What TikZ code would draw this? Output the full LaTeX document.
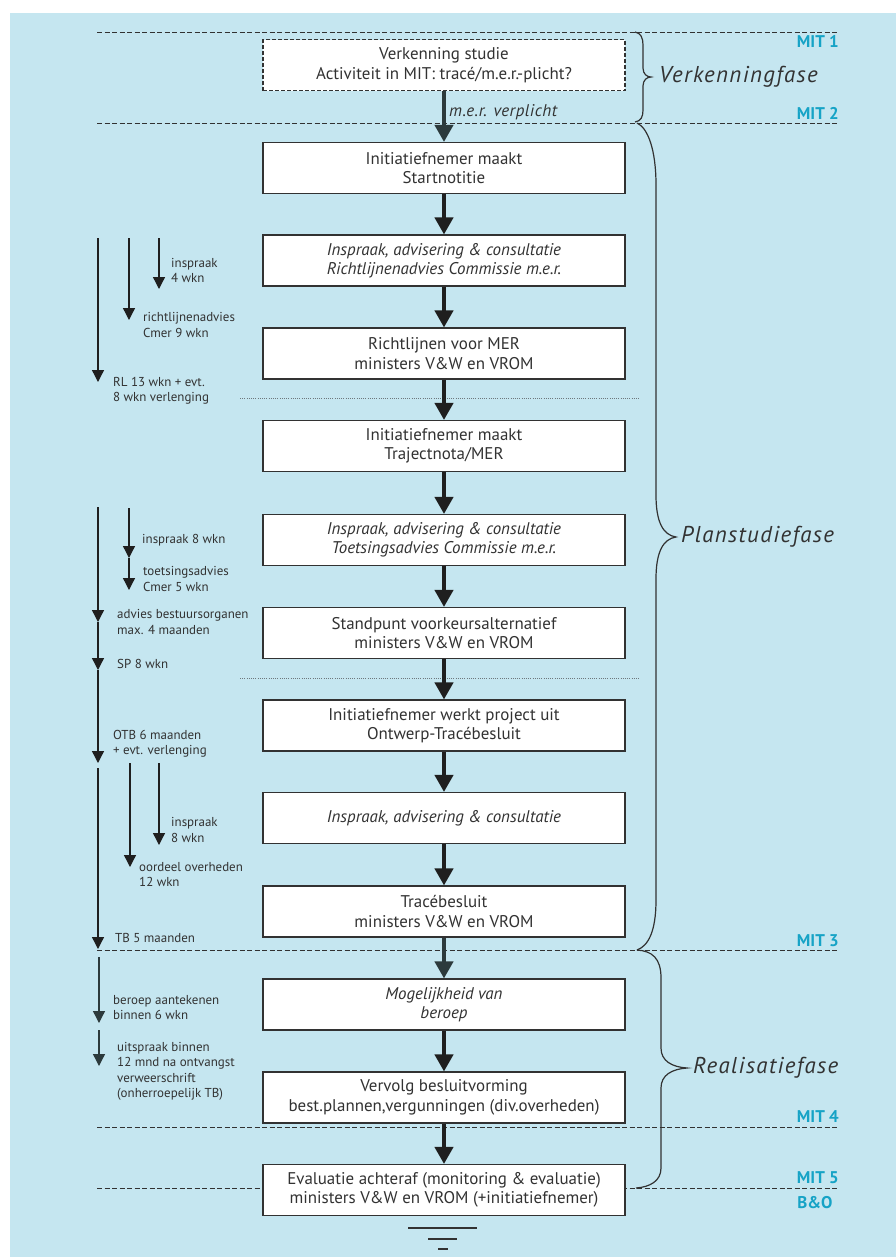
\documentclass[tikz,border=0pt]{standalone}
\usepackage{fontspec}
\setmainfont{PT Sans}
\usetikzlibrary{arrows.meta}
\definecolor{bgblue}{RGB}{197,230,240}
\definecolor{mitcyan}{RGB}{22,163,198}
\definecolor{ink}{RGB}{50,50,50}
\definecolor{slate}{RGB}{44,58,60}
\definecolor{dotgray}{RGB}{110,120,125}

\tikzset{
  stage/.style={draw=ink, fill=white, line width=1.1bp, minimum width=362bp, minimum height=51bp,
    inner sep=0pt, align=center, text=ink, font=\fontsize{17}{19.5}\selectfont},
  probe/.style={stage, dash pattern=on 4bp off 2bp},
  flow/.style={line width=4bp, draw=black!88, -{Triangle[width=18bp,length=17bp]}},
  span/.style={line width=1.3bp, draw=black!88, -{Triangle[width=12bp,length=12bp]}},
  note/.style={anchor=west, align=left, text=ink, font=\fontsize{13}{15.5}\selectfont, inner sep=0pt},
  milestone/.style={draw=ink, line width=1bp, dash pattern=on 5bp off 2.5bp},
  divider/.style={draw=dotgray, line width=0.9bp, dash pattern=on 1bp off 1.2bp},
  mitlabel/.style={text=mitcyan, font=\fontsize{17}{19}\selectfont\bfseries, inner sep=0pt},
  phase/.style={anchor=west, text=ink, font=\fontsize{23}{26}\selectfont\itshape\addfontfeature{LetterSpace=6}, inner sep=0pt},
  bracket/.style={draw=ink, line width=1.2bp},
}

\begin{document}
\begin{tikzpicture}[x=1bp, y=-1bp]
\useasboundingbox (0,0) rectangle (896,1257);
\fill[white] (0,0) rectangle (896,1257);
\fill[bgblue] (10,13) rectangle (896,1257);

% milestone lines
\foreach \yy/\nm in {32/m1, 123/m2, 950/m3, 1127/m4, 1188/m5} {
  \coordinate (\nm L) at (97,\yy);
  \coordinate (\nm R) at (838,\yy);
  \draw[milestone] (\nm L) -- (\nm R);
}
\node[mitlabel, anchor=north east] (mit1) at (839,35) {MIT 1};
\node[mitlabel, anchor=south east] (mit2) at (839,120) {MIT 2};
\node[mitlabel, anchor=south east] (mit3) at (839,947) {MIT 3};
\node[mitlabel, anchor=south east] (mit4) at (839,1123) {MIT 4};
\node[mitlabel, anchor=south east] (mit5) at (839,1184) {MIT 5};
\node[mitlabel, anchor=north] (bo) at (815,1196) {B\&O};

% dotted dividers
\coordinate (d1L) at (240,398); \coordinate (d1R) at (639,398);
\coordinate (d2L) at (240,678); \coordinate (d2R) at (639,678);
\draw[divider] (d1L) -- (d1R);
\draw[divider] (d2L) -- (d2R);

% process steps
\node[probe] (b1) at (444,65) {Verkenning studie\\Activiteit in MIT: tracé/m.e.r.-plicht?};
\node[stage] (b2) at (444,168) {Initiatiefnemer maakt\\Startnotitie};
\node[stage] (b3) at (444,260.5) {\itshape Inspraak, advisering \& consultatie\\\itshape Richtlijnenadvies Commissie m.e.r.};
\node[stage] (b4) at (444,353.5) {Richtlijnen voor MER\\ministers V\&W en VROM};
\node[stage] (b5) at (444,446) {Initiatiefnemer maakt\\Trajectnota/MER};
\node[stage] (b6) at (444,540) {\itshape Inspraak, advisering \& consultatie\\\itshape Toetsingsadvies Commissie m.e.r.};
\node[stage] (b7) at (444,633) {Standpunt voorkeursalternatief\\ministers V\&W en VROM};
\node[stage] (b8) at (444,725.5) {Initiatiefnemer werkt project uit\\Ontwerp-Tracébesluit};
\node[stage] (b9) at (444,818) {\itshape Inspraak, advisering \& consultatie};
\node[stage] (b10) at (444,911.5) {Tracébesluit\\ministers V\&W en VROM};
\node[stage] (b11) at (444,1004.5) {\itshape Mogelijkheid van\\\itshape beroep};
\node[stage] (b12) at (444,1097.5) {Vervolg besluitvorming\\best.plannen,vergunningen (div.overheden)};
\node[stage] (b13) at (444,1190) {Evaluatie achteraf (monitoring \& evaluatie)\\ministers V\&W en VROM (+initiatiefnemer)};

% main flow
\draw[flow, draw=slate] (b1) -- (b2);
\node[anchor=west, inner sep=0pt, text=ink, font=\fontsize{17}{19}\selectfont\itshape\addfontfeature{LetterSpace=3}] (mer) at (449,112) {m.e.r. verplicht};
\draw[flow] (b2) -- (b3);
\draw[flow] (b3) -- (b4);
\draw[flow] (b4) -- (b5);
\draw[flow] (b5) -- (b6);
\draw[flow] (b6) -- (b7);
\draw[flow] (b7) -- (b8);
\draw[flow] (b8) -- (b9);
\draw[flow] (b9) -- (b10);
\draw[flow, draw=slate] (b10) -- (b11);
\draw[flow] (b11) -- (b12);
\draw[flow] (b12) -- (b13);

% closing rule
\coordinate (e1L) at (408,1228); \coordinate (e1R) at (477,1228);
\coordinate (e2L) at (428,1239); \coordinate (e2R) at (457,1239);
\coordinate (e3L) at (438,1249); \coordinate (e3R) at (448,1249);
\draw[line width=1.3bp, ink] (e1L) -- (e1R) (e2L) -- (e2R) (e3L) -- (e3R);

% durations, first block
\coordinate (a1s) at (98,238);  \coordinate (a1e) at (98,382);
\coordinate (a2s) at (129,238); \coordinate (a2e) at (129,320);
\coordinate (a3s) at (159,238); \coordinate (a3e) at (159,289);
\draw[span] (a1s) -- (a1e);
\draw[span] (a2s) -- (a2e);
\draw[span] (a3s) -- (a3e);
\node[note] (t1) at (171,270.5) {inspraak\\4 wkn};
\node[note] (t2) at (143,325) {richtlijnenadvies\\Cmer 9 wkn};
\node[note] (t3) at (113,390.5) {RL 13 wkn + evt.\\8 wkn verlenging};

% durations, second block
\coordinate (c0) at (98,507);
\coordinate (c1) at (98,622);
\coordinate (c2) at (98,670);
\coordinate (c3) at (98,763);
\coordinate (c4) at (98,768);
\coordinate (c5) at (98,949);
\draw[span] (c0) -- (c1);
\draw[span] (c1) -- (c2);
\draw[span] (c2) -- (c3);
\draw[span] (c4) -- (c5);
\coordinate (k0) at (129,508);
\coordinate (k1) at (129,558);
\coordinate (k2) at (129,590);
\draw[span] (k0) -- (k1);
\draw[span] (k1) -- (k2);
\node[note] (t4) at (142,540) {inspraak 8 wkn};
\node[note] (t5) at (143,579) {toetsingsadvies\\Cmer 5 wkn};
\node[note] (t6) at (117,622) {advies bestuursorganen\\max. 4 maanden};
\node[note] (t7) at (117,664) {SP 8 wkn};
\node[note] (t8) at (113,743.5) {OTB 6 maanden\\+ evt. verlenging};

% durations, third block
\coordinate (f1s) at (130,763); \coordinate (f1e) at (130,867);
\coordinate (f2s) at (159,763); \coordinate (f2e) at (159,845);
\draw[span] (f1s) -- (f1e);
\draw[span] (f2s) -- (f2e);
\node[note] (t9) at (171,830) {inspraak\\8 wkn};
\node[note] (t10) at (139,874.5) {oordeel overheden\\12 wkn};
\node[note] (t11) at (115,938) {TB 5 maanden};

% durations, appeal
\coordinate (r1s) at (99,957);  \coordinate (r1e) at (99,1023);
\coordinate (r2s) at (99,1030); \coordinate (r2e) at (99,1066);
\draw[span, draw=slate] (r1s) -- (r1e);
\draw[span, draw=slate] (r2s) -- (r2e);
\node[note] (t12) at (113,1007.5) {beroep aantekenen\\binnen 6 wkn};
\node[note] (t13) at (117,1071.5) {uitspraak binnen\\12 mnd na ontvangst\\verweerschrift\\(onherroepelijk TB)};

% phase brackets
\draw[bracket] (635,32) .. controls (641,33) and (643,38) .. (643,45) -- (643,68)
  .. controls (643,74) and (647,77) .. (651,77) .. controls (647,77) and (643,80) .. (643,86)
  -- (643,110) .. controls (643,117) and (641,121) .. (635,122);
\node[phase] (ph1) at (659,77) {Verkenningfase};

\draw[bracket] (637,123) .. controls (648,128) and (656,150) .. (656,185) -- (656,495)
  .. controls (656,522) and (663,535) .. (676,537) .. controls (663,539) and (656,552) .. (656,579)
  -- (656,900) .. controls (656,932) and (648,946) .. (637,950);
\node[phase] (ph2) at (681,537) {Planstudiefase};

\draw[bracket] (637,950) .. controls (652,951) and (661,958) .. (661,978) -- (661,1048)
  .. controls (661,1061) and (672,1067) .. (687,1068) .. controls (672,1069) and (661,1075) .. (661,1088)
  -- (661,1168) .. controls (661,1181) and (650,1187) .. (636,1188);
\node[phase] (ph3) at (693,1068) {Realisatiefase};
\end{tikzpicture}
\end{document}
